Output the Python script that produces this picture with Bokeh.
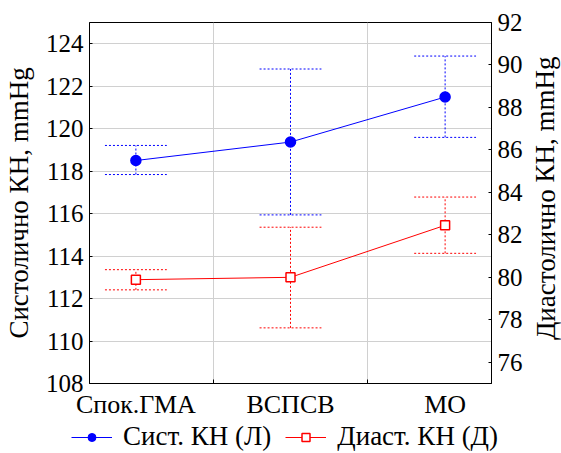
from bokeh.plotting import figure
from bokeh.layouts import row, column
from bokeh.models import Range1d, LinearAxis, FixedTicker, Legend, LegendItem, Label
from bokeh.embed import file_html
from bokeh.resources import INLINE

categories = ["Спок.ГМА", "ВСПСВ", "МО"]
xs = [1, 2, 3]
sys_mean = [118.5, 119.37, 121.49]
sys_low = [117.84, 115.94, 119.59]
sys_high = [119.21, 122.81, 123.42]
dia_mean = [79.89, 80.0, 82.45]
dia_low = [79.41, 77.62, 81.13]
dia_high = [80.36, 82.36, 83.78]
left_ticks = [108, 110, 112, 114, 116, 118, 120, 122, 124]
right_ticks = [76, 78, 80, 82, 84, 86, 88, 90, 92]
bounds = [1.5, 2.5]

FONT = "Liberation Serif"
TICK_FS = "25px"
CAT_FS = "26px"
LAB_FS = "27px"
LEG_FS = "27px"
CAP = 0.2
blue = "#0000ff"
red = "#ff0000"

MAIN_W, MAIN_H = 527, 421
p = figure(width=MAIN_W, height=MAIN_H, x_range=Range1d(0.7, 3.3), y_range=Range1d(108, 125),
           output_backend="svg", toolbar_location=None,
           min_border_left=88, min_border_right=36, min_border_top=22, min_border_bottom=38)
p.extra_y_ranges = {"right": Range1d(75, 92)}
p.background_fill_color = "white"
p.outline_line_color = "black"
p.outline_line_width = 1

# grids
p.ygrid.ticker = FixedTicker(ticks=left_ticks)
p.ygrid.grid_line_color = "#d0d0d0"
p.xgrid.ticker = FixedTicker(ticks=bounds)
p.xgrid.grid_line_color = "#d0d0d0"

# x axis
xa = p.xaxis[0]
xa.ticker = FixedTicker(ticks=xs, minor_ticks=bounds)
xa.major_label_overrides = {x: c for x, c in zip(xs, categories)}
xa.major_tick_in = 0
xa.major_tick_out = 0
xa.minor_tick_out = 0
xa.minor_tick_in = 4
xa.minor_tick_line_color = "black"
xa.major_label_text_font = FONT
xa.major_label_text_font_size = CAT_FS
xa.major_label_text_color = "black"
xa.axis_line_color = "black"
xa.major_label_standoff = 6

# left axis
ya = p.yaxis[0]
ya.ticker = FixedTicker(ticks=left_ticks)
ya.axis_label = "Систолично КН, mmHg"
ya.axis_label_text_font = FONT
ya.axis_label_text_font_size = LAB_FS
ya.axis_label_text_font_style = "normal"
ya.axis_label_text_color = "black"
ya.major_label_text_font = FONT
ya.major_label_text_font_size = TICK_FS
ya.major_label_text_color = "black"
ya.major_tick_in = 3
ya.major_tick_out = 0
ya.minor_tick_out = 0
ya.minor_tick_in = 0
ya.axis_line_color = "black"
ya.major_label_standoff = 6
ya.axis_label_standoff = 9

# right axis (its title is drawn in the side strip)
ra = LinearAxis(y_range_name="right", ticker=FixedTicker(ticks=right_ticks))
ra.major_label_text_font = FONT
ra.major_label_text_font_size = TICK_FS
ra.major_label_text_color = "black"
ra.major_tick_in = 3
ra.major_tick_out = 0
ra.minor_tick_out = 0
ra.minor_tick_in = 0
ra.axis_line_color = "black"
ra.major_label_standoff = 6
p.add_layout(ra, "right")


def draw_series(fig, lo, hi, mean, color, marker, msize, fill, rng):
    fig.segment(x0=xs, x1=xs, y0=lo, y1=hi, line_color=color, line_dash="2 2", line_width=1,
                y_range_name=rng)
    fig.segment(x0=[x - CAP for x in xs], x1=[x + CAP for x in xs], y0=lo, y1=lo,
                line_color=color, line_dash="2 2", line_width=1, y_range_name=rng)
    fig.segment(x0=[x - CAP for x in xs], x1=[x + CAP for x in xs], y0=hi, y1=hi,
                line_color=color, line_dash="2 2", line_width=1, y_range_name=rng)
    fig.line(xs, mean, line_color=color, line_width=1, y_range_name=rng)
    fig.scatter(xs, mean, marker=marker, size=msize, fill_color=fill, line_color=color,
                line_width=1.5, y_range_name=rng)


draw_series(p, sys_low, sys_high, sys_mean, blue, "circle", 10, blue, "default")
draw_series(p, dia_low, dia_high, dia_mean, red, "square", 9, "white", "right")

# right-side strip carrying the diastolic axis title (reads bottom to top)
SIDE_W = 34
side = figure(width=SIDE_W, height=MAIN_H, x_range=Range1d(0, 1), y_range=Range1d(0, 1),
              output_backend="svg", toolbar_location=None,
              x_axis_location=None, y_axis_location=None,
              min_border_left=0, min_border_right=0, min_border_top=0, min_border_bottom=0)
side.outline_line_color = None
side.grid.visible = False
side.add_layout(Label(x=18 / SIDE_W, y=(MAIN_H - 205) / MAIN_H, text="Диастолично КН, mmHg",
                      angle=1.5708, text_align="center", text_baseline="middle",
                      text_font=FONT, text_font_size=LAB_FS, text_color="black"))

# legend strip: the same series, drawn out of this strip's view, only feed the legend glyphs
LEG_H = 32
leg = figure(width=MAIN_W + SIDE_W, height=LEG_H, x_range=Range1d(-10, -9), y_range=Range1d(-10, -9),
             output_backend="svg", toolbar_location=None,
             x_axis_location=None, y_axis_location=None,
             min_border_left=0, min_border_right=0, min_border_top=0, min_border_bottom=0)
leg.outline_line_color = None
leg.grid.visible = False
lbl = leg.line(xs, sys_mean, line_color=blue, line_width=1)
lbc = leg.scatter(xs, sys_mean, marker="circle", size=9, fill_color=blue, line_color=blue)
lrl = leg.line(xs, dia_mean, line_color=red, line_width=1)
lrs = leg.scatter(xs, dia_mean, marker="square", size=9, fill_color="white", line_color=red,
                  line_width=1.5)
legend = Legend(items=[LegendItem(label="Сист. КН (Л)", renderers=[lbl, lbc]),
                       LegendItem(label="Диаст. КН (Д)", renderers=[lrl, lrs])],
                orientation="horizontal", location=(71, 1))
legend.label_text_font = FONT
legend.label_text_font_size = LEG_FS
legend.label_text_color = "black"
legend.glyph_width = 41
legend.glyph_height = 20
legend.label_height = 26
legend.label_standoff = 11
legend.spacing = 14
legend.padding = 0
legend.margin = 0
legend.border_line_color = None
legend.background_fill_alpha = 0
leg.add_layout(legend)

layout = column(row(p, side, spacing=0), leg, spacing=0)
open("out.html", "w").write(file_html(layout, INLINE))
